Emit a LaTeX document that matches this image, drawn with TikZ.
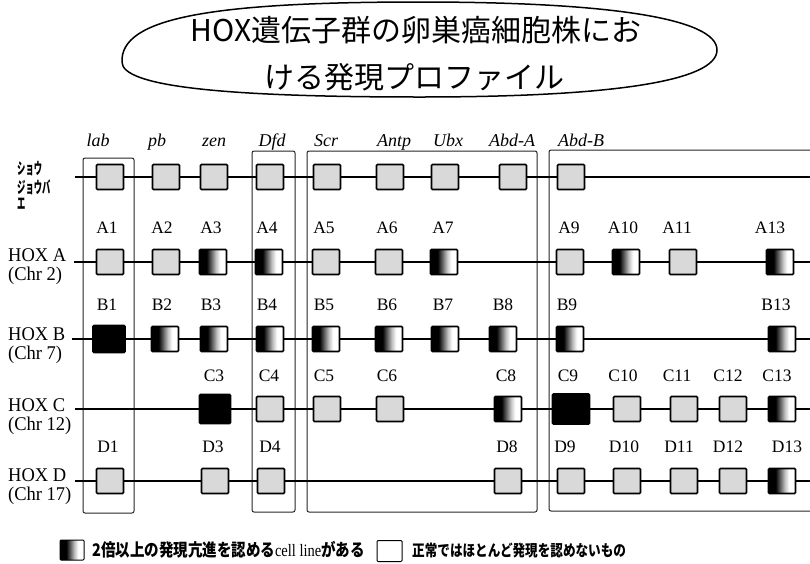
\documentclass[tikz,border=0pt]{standalone}
\usepackage{fontspec}
\setmainfont{Liberation Serif}
\newfontfamily\jp{Noto Sans CJK JP}
\usetikzlibrary{shapes.geometric}
\pgfdeclarehorizontalshading{hoxgrad}{100bp}{color(0bp)=(black); color(38bp)=(black); color(46bp)=(black!65); color(55bp)=(black!25); color(63bp)=(white); color(100bp)=(white)}
\tikzset{
 gbox/.style={draw=black, line width=1.6pt, fill=black!15, minimum width=27pt, minimum height=25pt, rounded corners=1pt, inner sep=0pt, outer sep=0pt},
 hbox/.style={draw=black, line width=1.6pt, shade, shading=hoxgrad, minimum width=27pt, minimum height=25pt, rounded corners=1pt, inner sep=0pt, outer sep=0pt},
 kbox/.style={draw=black, fill=black, line width=1.6pt, rounded corners=1pt, inner sep=0pt, outer sep=0pt},
 rowline/.style={line width=2.2pt},
 frame/.style={line width=1pt, black!85, rounded corners=2pt},
 lbl/.style={font=\fontsize{17.5}{18}\selectfont, inner sep=0pt},
 gene/.style={font=\fontsize{18}{18}\selectfont\itshape, inner sep=0pt, anchor=base},
 rowlbl/.style={font=\fontsize{18.5}{19}\selectfont, inner sep=0pt, anchor=west},
 jlbl/.style={font=\jp\bfseries\fontsize{16}{16}\selectfont, inner sep=0pt, anchor=west},
 ttl/.style={font=\jp\fontsize{30}{30}\selectfont, inner sep=0pt},
 leg/.style={font=\jp\bfseries\fontsize{14.5}{15}\selectfont, inner sep=0pt, anchor=west},
}
\begin{document}
\begin{tikzpicture}[x=1pt,y=-1pt]
\fill[white] (0,0) rectangle (810,563);
\useasboundingbox (0,0) rectangle (810,563);

% title
\draw[line width=1.5pt] (122,62) .. controls (120,18) and (211,2) .. (420,2)
  .. controls (613,2) and (717,19) .. (717,50)
  .. controls (717,81) and (613,97) .. (420,97)
  .. controls (211,97) and (122,85) .. (122,62) -- cycle;
\node[ttl] (t1) at (416,30) {HOX遺伝子群の卵巣癌細胞株にお};
\node[ttl] (t2) at (414,77) {ける発現プロファイル};

% frames
\draw[frame] (83,158) rectangle (134,513);
\draw[frame] (252,151) rectangle (295,512);
\draw[frame] (307,151) rectangle (537,512);
\draw[frame] (815,150) -- (549,150) -- (549,511) -- (815,511);

% gene labels
\node[gene] (glab) at (98,146) {lab};
\node[gene] (gpb) at (157,146) {pb};
\node[gene] (gzen) at (214,146) {zen};
\node[gene] (gdfd) at (272,146) {Dfd};
\node[gene] (gscr) at (326,146) {Scr};
\node[gene] (gantp) at (394,146) {Antp};
\node[gene] (gubx) at (448,146) {Ubx};
\node[gene] (gabda) at (512,146) {Abd-A};
\node[gene] (gabdb) at (581,146) {Abd-B};

% row labels
\node[jlbl] (lf1) at (17,169) {\scalebox{0.52}[1]{ショウ}};
\node[jlbl] (lf2) at (17,187) {\scalebox{0.52}[1]{ジョウバ}};
\node[jlbl] (lf3) at (17,204) {\scalebox{0.52}[1]{エ}};
\node[rowlbl] (la1) at (8,255) {\scalebox{1}[1.05]{HOX A}};
\node[rowlbl] (la2) at (8,276) {\scalebox{1}[1.05]{(Chr 2)}};
\node[rowlbl] (lb1) at (8,334) {\scalebox{1}[1.05]{HOX B}};
\node[rowlbl] (lb2) at (8,355) {\scalebox{1}[1.05]{(Chr 7)}};
\node[rowlbl] (lc1) at (8,405) {\scalebox{1}[1.05]{HOX C}};
\node[rowlbl] (lc2) at (8,426) {\scalebox{1}[1.05]{(Chr 12)}};
\node[rowlbl] (ld1) at (8,475) {\scalebox{1}[1.05]{HOX D}};
\node[rowlbl] (ld2) at (8,496) {\scalebox{1}[1.05]{(Chr 17)}};

% fly row
\node[gbox] (f1) at (110,177) {};
\node[gbox] (f2) at (166,177) {};
\node[gbox] (f3) at (214,177) {};
\node[gbox] (f4) at (270,177) {};
\node[gbox] (f5) at (327,177) {};
\node[gbox] (f6) at (390,177) {};
\node[gbox] (f7) at (445,177) {};
\node[gbox] (f8) at (513,177) {};
\node[gbox] (f9) at (571,177) {};
\coordinate (fS) at (75,177);
\coordinate (fE) at (810,177);
\draw[rowline] (fS) -- (f1) -- (f2) -- (f3) -- (f4) -- (f5) -- (f6) -- (f7) -- (f8) -- (f9) -- (fE);

% HOX A
\node[gbox] (a1) at (110,262) {};
\node[gbox] (a2) at (166,262) {};
\node[hbox] (a3) at (213,262) {};
\node[hbox] (a4) at (269,262) {};
\node[gbox] (a5) at (326,262) {};
\node[gbox] (a6) at (389,262) {};
\node[hbox] (a7) at (444,262) {};
\node[gbox] (a9) at (570,262) {};
\node[hbox] (a10) at (626,262) {};
\node[gbox] (a11) at (683,262) {};
\node[hbox] (a13) at (780,262) {};
\coordinate (aS) at (74,262);
\coordinate (aE) at (810,262);
\draw[rowline] (aS) -- (a1) -- (a2) -- (a3) -- (a4) -- (a5) -- (a6) -- (a7) -- (a9) -- (a10) -- (a11) -- (a13) -- (aE);
\foreach \n/\x in {A1/107,A2/162,A3/211,A4/267,A5/324,A6/387,A7/443,A9/569,A10/623,A11/677,A13/770}
  \node[lbl] (l\n) at (\x,228) {\n};

% HOX B
\node[kbox, minimum width=32pt, minimum height=27pt] (b1) at (109,339) {};
\node[hbox] (b2) at (165,339) {};
\node[hbox] (b3) at (214,339) {};
\node[hbox] (b4) at (270,339) {};
\node[hbox] (b5) at (326,339) {};
\node[hbox] (b6) at (389,339) {};
\node[hbox] (b7) at (445,339) {};
\node[hbox] (b8) at (503,339) {};
\node[hbox] (b9) at (570,339) {};
\node[hbox] (b13) at (782,339) {};
\coordinate (bS) at (72,339);
\coordinate (bE) at (810,339);
\draw[rowline] (bS) -- (b1) -- (b2) -- (b3) -- (b4) -- (b5) -- (b6) -- (b7) -- (b8) -- (b9) -- (b13) -- (bE);
\foreach \n/\x in {B1/107,B2/162,B3/211,B4/267,B5/324,B6/387,B7/443,B8/503,B9/567,B13/776}
  \node[lbl] (l\n) at (\x,305) {\n};

% HOX C
\node[kbox, minimum width=31pt, minimum height=29pt] (c3) at (215,409) {};
\node[gbox] (c4) at (270,409) {};
\node[gbox] (c5) at (327,409) {};
\node[gbox] (c6) at (390,409) {};
\node[hbox] (c8) at (508,409) {};
\node[kbox, minimum width=37pt, minimum height=30pt] (c9) at (571,409) {};
\node[gbox] (c10) at (627,409) {};
\node[gbox] (c11) at (684,409) {};
\node[gbox] (c12) at (733,409) {};
\node[hbox] (c13) at (782,409) {};
\coordinate (cS) at (75,409);
\coordinate (cE) at (810,409);
\draw[rowline] (cS) -- (c3) -- (c4) -- (c5) -- (c6) -- (c8) -- (c9) -- (c10) -- (c11) -- (c12) -- (c13) -- (cE);
\foreach \n/\x in {C3/214,C4/269,C5/324,C6/387,C8/506,C9/568,C10/623,C11/677,C12/728,C13/777}
  \node[lbl] (l\n) at (\x,376) {\n};

% HOX D
\node[gbox] (dd1) at (110,481) {};
\node[gbox] (dd3) at (215,481) {};
\node[gbox] (dd4) at (271,481) {};
\node[gbox] (dd8) at (508,481) {};
\node[gbox] (dd9) at (571,481) {};
\node[gbox] (dd10) at (627,481) {};
\node[gbox] (dd11) at (684,481) {};
\node[gbox] (dd12) at (733,481) {};
\node[hbox] (dd13) at (782,481) {};
\coordinate (dS) at (75,481);
\coordinate (dE) at (810,481);
\draw[rowline] (dS) -- (dd1) -- (dd3) -- (dd4) -- (dd8) -- (dd9) -- (dd10) -- (dd11) -- (dd12) -- (dd13) -- (dE);
\foreach \n/\x in {D1/108,D3/213,D4/270,D8/507,D9/565,D10/624,D11/679,D12/728,D13/787}
  \node[lbl] (l\n) at (\x,447) {\n};

% legend
\node[hbox, line width=1pt, minimum width=24pt, minimum height=20pt] (lgA) at (72,550) {};
\node[leg] (lgAt) at (92,550) {\scalebox{1}[1.2]{2倍以上の発現亢進を認める{\rmfamily\mdseries cell line}がある}};
\node[draw=black, fill=white, line width=1pt, rounded corners=1pt, minimum width=25pt, minimum height=21pt, inner sep=0pt] (lgB) at (389.5,551) {};
\node[leg, font=\jp\bfseries\fontsize{12.6}{13}\selectfont] (lgBt) at (412,551) {\scalebox{1}[1.25]{正常ではほとんど発現を認めないもの}};
\end{tikzpicture}
\end{document}
